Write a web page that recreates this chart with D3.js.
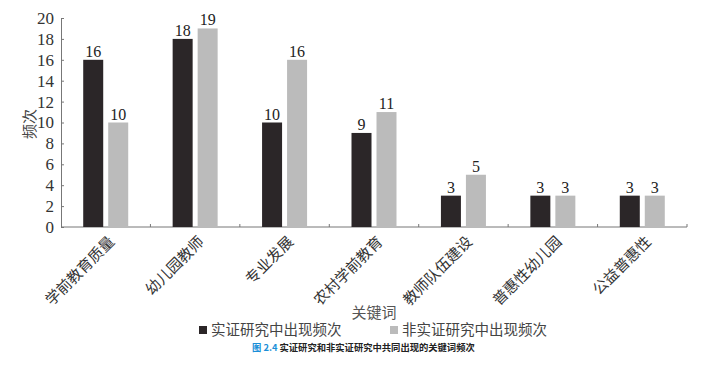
<!DOCTYPE html>
<html>
<head>
<meta charset="utf-8">
<script src="https://cdn.jsdelivr.net/npm/d3@7"></script>
<style>
  body { margin: 0; background: #fff; }
  .num { font-family: "Liberation Serif", "Noto Sans CJK SC", serif; }
  .cjk { font-family: "Liberation Serif", "Noto Sans CJK SC", serif; }
</style>
</head>
<body>
<div id="chart"></div>
<script>
var categories = ["学前教育质量", "幼儿园教师", "专业发展", "农村学前教育", "教师队伍建设", "普惠性幼儿园", "公益普惠性"];
var empirical = [16, 18, 10, 9, 3, 3, 3];
var nonEmpirical = [10, 19, 16, 11, 5, 3, 3];
var seriesNames = ["实证研究中出现频次", "非实证研究中出现频次"];
var yTicks = [0, 2, 4, 6, 8, 10, 12, 14, 16, 18, 20];

var width = 716, height = 365,
    margin = {top: 18, right: 29, bottom: 138, left: 61},
    colors = ["#2b2628", "#bbbbbb"];

var svg = d3.select("#chart").append("svg")
    .attr("width", width)
    .attr("height", height);

var x = d3.scaleBand()
    .domain(categories)
    .range([margin.left, width - margin.right])
    .paddingInner(0)
    .paddingOuter(0);

var y = d3.scaleLinear()
    .domain([0, 20])
    .range([height - margin.bottom, margin.top]);

var barW = 20, gap = 5;

// y axis
var yAxis = svg.append("g")
    .attr("transform", "translate(" + margin.left + ",0)")
    .call(d3.axisLeft(y).tickValues(yTicks).tickSize(-3).tickPadding(7));
yAxis.select(".domain").attr("stroke", "#777");
yAxis.selectAll(".tick line").attr("stroke", "#777");
yAxis.selectAll("text")
    .attr("class", "num")
    .style("font-size", "17px")
    .attr("fill", "#333");

// x axis with ticks at category boundaries
var xAxis = svg.append("g")
    .attr("transform", "translate(0," + y(0) + ")");
xAxis.append("line")
    .attr("x1", margin.left).attr("x2", width - margin.right)
    .attr("stroke", "#777");
xAxis.selectAll(".bt")
    .data(categories)
    .enter().append("line")
    .attr("x1", function (d) { return x(d) + x.bandwidth(); })
    .attr("x2", function (d) { return x(d) + x.bandwidth(); })
    .attr("y1", 0).attr("y2", -3)
    .attr("stroke", "#777");

xAxis.selectAll(".xl")
    .data(categories)
    .enter().append("text")
    .attr("class", "cjk")
    .attr("transform", function (d) {
        return "translate(" + (x(d) + x.bandwidth() / 2 + 6) + "," + 12 + ") rotate(-45)";
    })
    .attr("text-anchor", "end")
    .attr("dy", "0.35em")
    .style("font-size", "15px")
    .attr("fill", "#333")
    .text(function (d) { return d; });

// bars
var series = [empirical, nonEmpirical];
series.forEach(function (vals, s) {
    var g = svg.append("g");
    g.selectAll("rect")
        .data(vals)
        .enter().append("rect")
        .attr("x", function (d, i) {
            var c = x(categories[i]) + x.bandwidth() / 2;
            return s === 0 ? c - gap / 2 - barW : c + gap / 2;
        })
        .attr("y", function (d) { return y(d); })
        .attr("width", barW)
        .attr("height", function (d) { return y(0) - y(d); })
        .attr("fill", colors[s]);
    g.selectAll("text")
        .data(vals)
        .enter().append("text")
        .attr("class", "num")
        .attr("x", function (d, i) {
            var c = x(categories[i]) + x.bandwidth() / 2;
            return s === 0 ? c - gap / 2 - barW / 2 : c + gap / 2 + barW / 2;
        })
        .attr("y", function (d) { return y(d) - 3; })
        .attr("text-anchor", "middle")
        .style("font-size", "16px")
        .attr("fill", "#222")
        .text(function (d) { return d; });
});

// axis titles
svg.append("text")
    .attr("class", "cjk")
    .attr("transform", "translate(35,124) rotate(-90)")
    .attr("text-anchor", "middle")
    .style("font-size", "15px")
    .attr("fill", "#444")
    .text("频次");

svg.append("text")
    .attr("class", "cjk")
    .attr("x", 374).attr("y", 318)
    .attr("text-anchor", "middle")
    .style("font-size", "15px")
    .attr("fill", "#555")
    .text("关键词");

// legend
var legendX = [199, 390];
seriesNames.forEach(function (name, i) {
    var lg = svg.append("g").attr("transform", "translate(" + legendX[i] + ",330)");
    lg.append("rect")
        .attr("x", 0).attr("y", -4)
        .attr("width", 8).attr("height", 8)
        .attr("fill", colors[i]);
    lg.append("text")
        .attr("class", "cjk")
        .attr("x", 12).attr("y", 0)
        .attr("dy", "0.35em")
        .style("font-size", "14.5px")
        .attr("fill", "#444")
        .text(name);
});

// caption
var cap = svg.append("text")
    .attr("x", 252).attr("y", 351)
    .style("font-family", "'Noto Sans CJK SC', sans-serif")
    .style("font-size", "9.3px")
    .style("font-weight", "bold");
cap.append("tspan").attr("fill", "#1a8fd8").text("图 2.4 ");
cap.append("tspan").attr("fill", "#222").text("实证研究和非实证研究中共同出现的关键词频次");
</script>
</body>
</html>
